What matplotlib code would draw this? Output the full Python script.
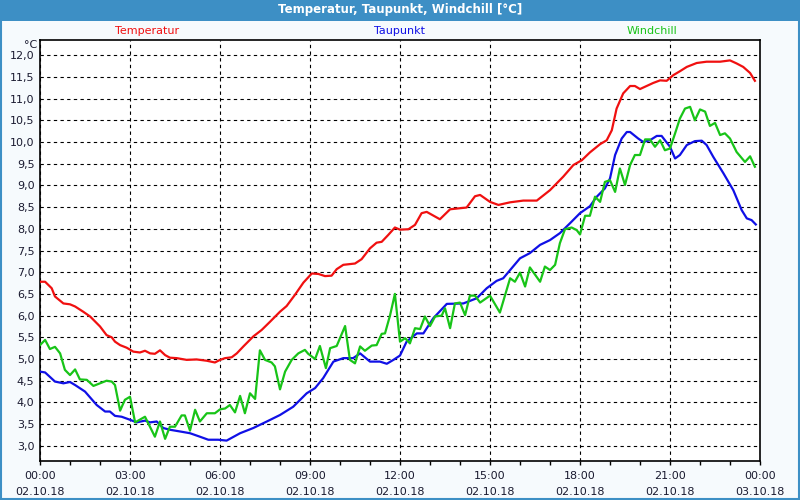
import numpy as np
import matplotlib
matplotlib.use("Agg")
import matplotlib.pyplot as plt
from matplotlib.patches import Rectangle
from matplotlib.ticker import MultipleLocator, FuncFormatter

# --- data (hours since 02.10.18 00:00, degC) ---
temp_t = [0.0, 0.17, 0.39, 0.5, 0.78, 1.0, 1.17, 1.44, 1.67, 2.0, 2.22, 2.39, 2.5, 2.67, 2.89,
          3.11, 3.33, 3.5, 3.67, 3.83, 4.0, 4.17, 4.33, 4.56, 4.89, 5.22, 5.56, 5.83, 6.0, 6.17,
          6.39, 6.56, 6.78, 7.11, 7.39, 7.67, 8.0, 8.22, 8.5, 8.78, 9.06, 9.28, 9.5, 9.72, 9.89,
          10.11, 10.5, 10.72, 11.0, 11.22, 11.39, 11.61, 11.83, 12.0, 12.28, 12.5, 12.72, 12.89,
          13.33, 13.67, 14.22, 14.5, 14.67, 15.0, 15.28, 15.67, 16.11, 16.56, 17.0, 17.44, 17.78,
          18.06, 18.33, 18.67, 18.89, 19.06, 19.22, 19.44, 19.67, 19.83, 20.0, 20.22, 20.44,
          20.67, 20.89, 21.11, 21.33, 21.56, 21.89, 22.22, 22.67, 23.0, 23.22, 23.44, 23.67, 23.83]
temp_v = [6.78, 6.78, 6.63, 6.44, 6.28, 6.26, 6.21, 6.09, 5.98, 5.75, 5.55, 5.50, 5.40, 5.32, 5.26,
          5.17, 5.15, 5.19, 5.13, 5.12, 5.20, 5.09, 5.03, 5.02, 4.98, 4.99, 4.96, 4.92, 4.98, 5.02,
          5.04, 5.13, 5.29, 5.52, 5.67, 5.86, 6.09, 6.22, 6.48, 6.76, 6.97, 6.96, 6.91, 6.92, 7.07,
          7.17, 7.20, 7.30, 7.55, 7.68, 7.70, 7.86, 8.03, 7.98, 7.99, 8.09, 8.36, 8.39,
          8.22, 8.45, 8.49, 8.75, 8.78, 8.62, 8.55, 8.61, 8.65, 8.65, 8.89, 9.20, 9.47,
          9.58, 9.76, 9.95, 10.04, 10.27, 10.77, 11.12, 11.29, 11.29, 11.22, 11.29, 11.36,
          11.42, 11.41, 11.54, 11.63, 11.73, 11.82, 11.85, 11.85, 11.88, 11.81, 11.73, 11.59, 11.41]

dew_t = [0.0, 0.17, 0.5, 0.78, 1.0, 1.17, 1.5, 1.89, 2.17, 2.33, 2.5, 2.72, 3.0, 3.22, 3.5, 3.67,
         3.89, 4.11, 4.33, 4.67, 5.0, 5.33, 5.61, 5.94, 6.22, 6.67, 7.11, 7.56, 8.0, 8.44, 8.89,
         9.17, 9.44, 9.78, 10.11, 10.44, 10.67, 11.0, 11.33, 11.56, 11.78, 12.0, 12.22, 12.56,
         12.78, 13.11, 13.56, 14.11, 14.56, 14.89, 15.22, 15.44, 16.0, 16.33, 16.67, 17.0, 17.33,
         17.67, 18.0, 18.33, 18.56, 18.83, 19.0, 19.17, 19.39, 19.56, 19.67, 19.94, 20.11, 20.33,
         20.56, 20.72, 21.0, 21.17, 21.33, 21.56, 21.83, 22.06, 22.22, 22.44, 22.78, 23.11, 23.39,
         23.56, 23.72, 23.86]
dew_v = [4.71, 4.69, 4.48, 4.44, 4.47, 4.40, 4.25, 3.94, 3.79, 3.79, 3.69, 3.67, 3.60, 3.54, 3.58, 3.54,
         3.56, 3.41, 3.37, 3.33, 3.29, 3.21, 3.14, 3.14, 3.12, 3.29, 3.41, 3.56, 3.71, 3.90, 4.21,
         4.33, 4.56, 4.94, 5.02, 5.02, 5.13, 4.94, 4.94, 4.89, 4.98, 5.08, 5.40, 5.59,
         5.59, 5.94, 6.27, 6.28, 6.40, 6.63, 6.80, 6.86, 7.32, 7.44, 7.63, 7.74, 7.90,
         8.13, 8.36, 8.52, 8.74, 8.93, 9.16, 9.70, 10.08, 10.23, 10.23, 10.08, 10.00, 10.04,
         10.14, 10.14, 9.89, 9.62, 9.70, 9.93, 10.02, 10.03, 9.93, 9.66, 9.28, 8.89, 8.43,
         8.24, 8.20, 8.10]

wind_t = [0.0, 0.17, 0.33, 0.5, 0.67, 0.83, 1.0, 1.17, 1.33, 1.56, 1.78, 2.0, 2.22, 2.39, 2.5, 2.67,
          2.83, 3.0, 3.17, 3.5, 3.83, 4.0, 4.17, 4.33, 4.5, 4.72, 4.83, 5.0, 5.17, 5.33, 5.56, 5.83,
          6.0, 6.17, 6.33, 6.5, 6.67, 6.83, 7.0, 7.17, 7.33, 7.5, 7.72, 7.83, 8.0, 8.17, 8.39, 8.61,
          8.83, 8.94, 9.17, 9.33, 9.53, 9.67, 9.89, 10.17, 10.33, 10.5, 10.67, 10.83, 11.06, 11.22,
          11.39, 11.5, 11.67, 11.83, 12.0, 12.17, 12.33, 12.5, 12.67, 12.83, 13.0, 13.17, 13.39,
          13.5, 13.67, 13.83, 14.0, 14.17, 14.33, 14.5, 14.67, 15.0, 15.33, 15.67, 15.83, 16.0,
          16.17, 16.33, 16.67, 16.83, 17.0, 17.17, 17.33, 17.5, 17.72, 17.89, 18.0, 18.17, 18.33,
          18.5, 18.67, 18.83, 19.0, 19.17, 19.33, 19.5, 19.67, 19.83, 20.0, 20.17, 20.33, 20.5,
          20.67, 20.83, 21.0, 21.17, 21.33, 21.5, 21.67, 21.83, 22.0, 22.17, 22.33, 22.5, 22.67,
          22.83, 23.0, 23.22, 23.5, 23.67, 23.83]
wind_v = [5.32, 5.44, 5.23, 5.28, 5.13, 4.75, 4.63, 4.76, 4.53, 4.52, 4.38, 4.44, 4.50, 4.48, 4.40, 3.81,
          4.06, 4.13, 3.54, 3.67, 3.21, 3.56, 3.16, 3.44, 3.44, 3.70, 3.70, 3.35, 3.83, 3.56, 3.75, 3.75,
          3.84, 3.86, 3.94, 3.77, 4.15, 3.75, 4.21, 4.08, 5.20, 4.98, 4.92, 4.83, 4.30, 4.71, 4.98, 5.13,
          5.21, 5.12, 5.00, 5.30, 4.79, 5.25, 5.30, 5.76, 4.98, 4.90, 5.29, 5.19, 5.31, 5.32,
          5.58, 5.59, 6.01, 6.50, 5.40, 5.48, 5.36, 5.71, 5.69, 5.98, 5.76, 5.98, 6.00,
          6.17, 5.71, 6.28, 6.30, 6.01, 6.46, 6.46, 6.30, 6.46, 6.07, 6.86, 6.78, 6.99,
          6.67, 7.11, 6.78, 7.13, 7.05, 7.17, 7.67, 7.99, 8.03, 7.97, 7.87, 8.30, 8.30,
          8.74, 8.62, 9.08, 9.12, 8.85, 9.39, 9.01, 9.47, 9.70, 9.70, 10.06, 10.06, 9.89,
          10.04, 9.81, 9.85, 10.20, 10.54, 10.77, 10.81, 10.50, 10.75, 10.70, 10.37, 10.44, 10.16,
          10.20, 10.08, 9.77, 9.54, 9.67, 9.43]

x_ticks = [0, 3, 6, 9, 12, 15, 18, 21, 24]
x_labels = ['00:00\n02.10.18', '03:00\n02.10.18', '06:00\n02.10.18', '09:00\n02.10.18',
            '12:00\n02.10.18', '15:00\n02.10.18', '18:00\n02.10.18', '21:00\n02.10.18',
            '00:00\n03.10.18']

c_temp = '#f01010'
c_dew = '#1010e6'
c_wind = '#18c418'
bar_blue = '#3d8fc5'

fig = plt.figure(figsize=(8, 5), dpi=100, facecolor='#f6fafd')
ax = fig.add_axes([40/800, 1-461/500, 720/800, 421/500])
ax.set_facecolor('white')

ax.plot(temp_t, temp_v, color=c_temp, lw=1.6, zorder=3)
ax.plot(dew_t, dew_v, color=c_dew, lw=1.6, zorder=3)
ax.plot(wind_t, wind_v, color=c_wind, lw=1.6, zorder=3)

ax.set_xlim(0, 24)
ax.set_ylim(2.65, 12.35)
ax.yaxis.set_major_locator(MultipleLocator(0.5))
ax.yaxis.set_major_formatter(FuncFormatter(lambda v, p: f'{v:.1f}'.replace('.', ',')))
ax.set_xticks(x_ticks)
ax.set_xticklabels(x_labels, linespacing=1.75)
ax.xaxis.set_minor_locator(MultipleLocator(1))
ax.tick_params(axis='y', length=0, pad=4, labelsize=8, labelcolor='#1a1a30')
ax.tick_params(axis='x', which='major', length=3, width=1, pad=4, labelsize=8, labelcolor='#1a1a30')
ax.tick_params(axis='x', which='minor', length=3, width=1)
ax.grid(True, which='major', color='black', lw=0.8, linestyle=(0, (3, 3)))
ax.set_axisbelow(True)
for s in ax.spines.values():
    s.set_linewidth(1.2)

# title bar and frame
fig.patches.append(Rectangle((0, 1-21/500), 1, 21/500, transform=fig.transFigure,
                             facecolor=bar_blue, edgecolor='none', zorder=0))
fig.patches.append(Rectangle((0.001, 0.002), 0.998, 0.996, transform=fig.transFigure,
                             facecolor='none', edgecolor=bar_blue, lw=1.5, zorder=5))
fig.text(0.5, 1-10/500, 'Temperatur, Taupunkt, Windchill [°C]', color='white',
         fontsize=8.5, fontweight='bold', ha='center', va='center')

# series labels
fig.text(147/800, 1-31/500, 'Temperatur', color=c_temp, fontsize=8, ha='center', va='center')
fig.text(400/800, 1-31/500, 'Taupunkt', color=c_dew, fontsize=8, ha='center', va='center')
fig.text(652/800, 1-31/500, 'Windchill', color=c_wind, fontsize=8, ha='center', va='center')
fig.text(37/800, 1-45/500, '°C', color='#1a1a30', fontsize=8, ha='right', va='center')

fig.savefig('out.png', dpi=100, facecolor=fig.get_facecolor())
